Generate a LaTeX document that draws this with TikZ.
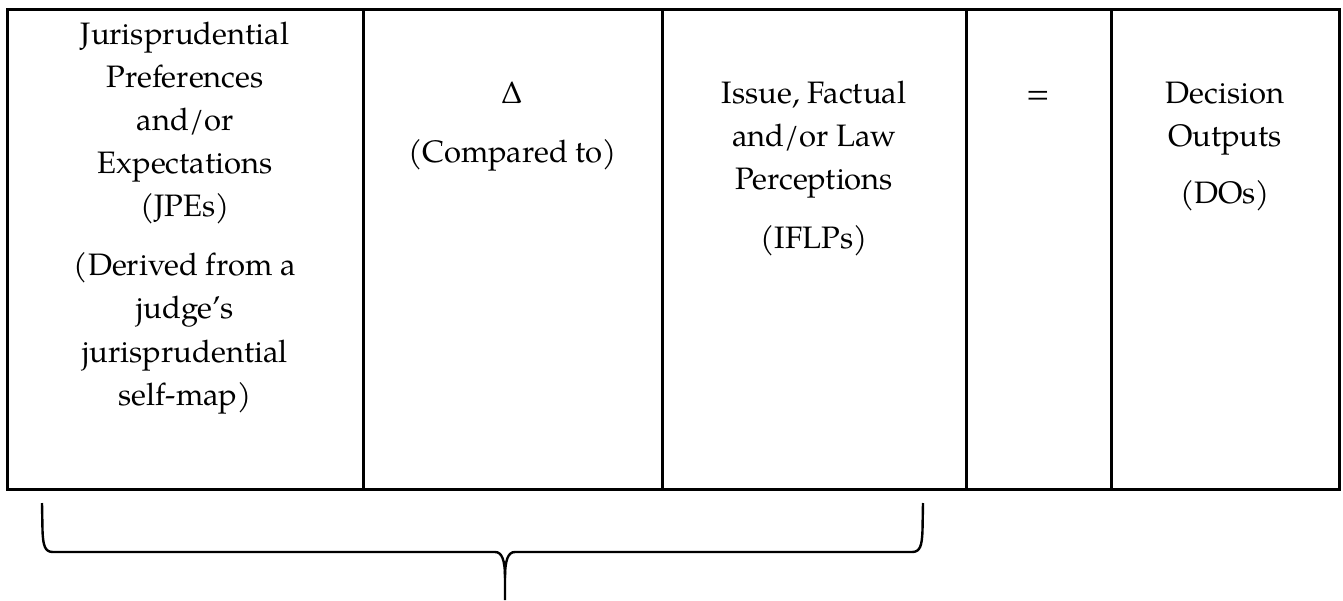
\documentclass[tikz,border=0pt]{standalone}
\usepackage{fontspec}
\setmainfont{TeX Gyre Pagella}
\begin{document}
\begin{tikzpicture}[x=1pt,y=-1pt,
  frame/.style={line width=3pt,line cap=rect},
  lbl/.style={anchor=base,inner sep=0pt,font=\fontsize{31}{36}\selectfont},
  bracestroke/.style={line width=2.4pt}]
\useasboundingbox (0,0) rectangle (1343,600);
% table outline and column rules
\draw[frame] (7,9) rectangle (1339,489);
\foreach \xx in {363,662,966,1111} \draw[frame] (\xx,9) -- (\xx,489);
% column 1
\node[lbl] (a1) at (185,44) {Jurisprudential};
\node[lbl] (a2) at (185,87) {Preferences};
\node[lbl] (a3) at (185,130) {and/or};
\node[lbl] (a4) at (185,173) {Expectations};
\node[lbl] (a5) at (185,216) {(JPEs)};
\node[lbl] (a6) at (185,275) {(Derived from a};
\node[lbl] (a7) at (185,318) {judge’s};
\node[lbl] (a8) at (185,362) {jurisprudential};
\node[lbl] (a9) at (185,405) {self-map)};
% column 2
\node[lbl] (b1) at (512.5,103) {Δ};
\node[lbl] (b2) at (512.5,162) {(Compared to)};
% column 3
\node[lbl] (c1) at (814,103) {Issue, Factual};
\node[lbl] (c2) at (814,146) {and/or Law};
\node[lbl] (c3) at (814,189) {Perceptions};
\node[lbl] (c4) at (814,248) {(IFLPs)};
% column 4
\node[lbl] (d1) at (1038.5,103) {=};
% column 5
\node[lbl] (e1) at (1225,103) {Decision};
\node[lbl] (e2) at (1225,146) {Outputs};
\node[lbl] (e3) at (1225,203) {(DOs)};
% brace
\coordinate (bl) at (42,503);
\coordinate (br) at (923,503);
\coordinate (bt) at (505,600);
\draw[bracestroke] (bl) -- (42.5,530) .. controls (43,546) and (45,552) .. (53,552)
  -- (495,552) .. controls (502,552) and (505,560) .. (505,578) -- (bt);
\draw[bracestroke] (br) -- (922.5,530) .. controls (922,546) and (920,552) .. (912,552)
  -- (515,552) .. controls (508,552) and (505,560) .. (505,578);
\end{tikzpicture}
\end{document}
